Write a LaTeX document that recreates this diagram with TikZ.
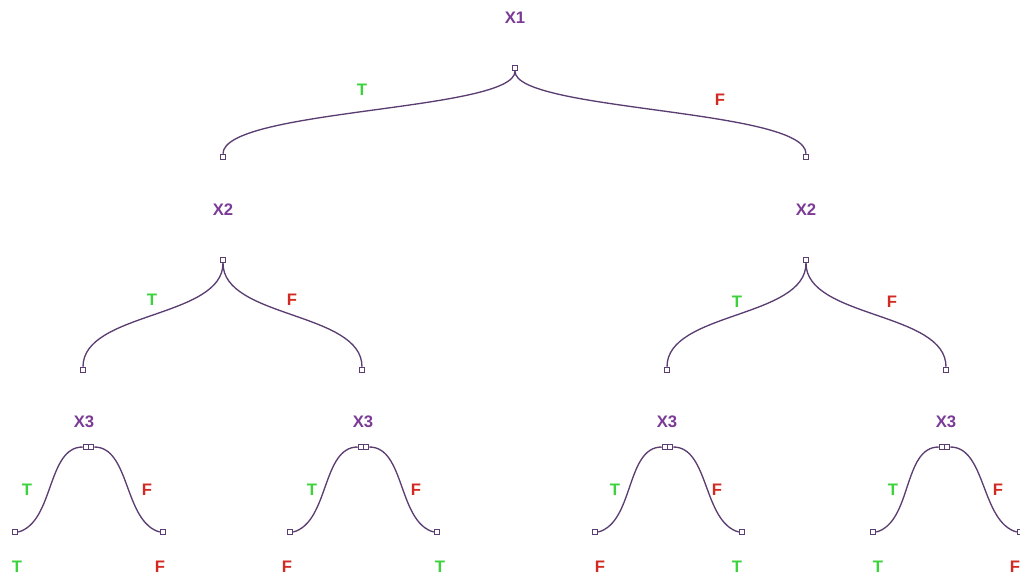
\documentclass[tikz,border=0pt]{standalone}
\usepackage{fontspec}
\setsansfont{Liberation Sans}
\usetikzlibrary{positioning}
\definecolor{varcol}{HTML}{7B3A96}
\definecolor{linkcol}{HTML}{5A3E72}
\definecolor{tcol}{HTML}{3CD23C}
\definecolor{fcol}{HTML}{D02A22}

\begin{document}
\begin{tikzpicture}[x=0.75pt,y=-0.75pt]
\tikzset{
  var/.style={text=varcol,font=\sffamily\bfseries\fontsize{12.5}{14}\selectfont,inner sep=0pt},
  tl/.style={text=tcol,font=\sffamily\bfseries\fontsize{12.5}{14}\selectfont,inner sep=0pt},
  fl/.style={text=fcol,font=\sffamily\bfseries\fontsize{12.5}{14}\selectfont,inner sep=0pt},
  mk/.style={draw=linkcol,fill=white,line width=0.7pt,minimum size=4.2pt,inner sep=0pt},
  link/.style={draw=linkcol,line width=1pt}
}
\useasboundingbox (0,0) rectangle (1020,577);

% root
\node[var] (x1) at (515,18) {X1};
\node[mk] (r) at (515,68) {};
\node[mk] (a) at (223,157) {};
\node[mk] (b) at (806,157) {};
\draw[link] (r.south) .. controls +(0,40) and +(0,-45) .. (a.north);
\draw[link] (r.south) .. controls +(0,40) and +(0,-45) .. (b.north);
\node[tl] (ta) at (362,90) {T};
\node[fl] (fb) at (720,100) {F};

% second level
\node[var] (x2a) at (223,210) {X2};
\node[var] (x2b) at (806,210) {X2};
\node[mk] (ra) at (223,260) {};
\node[mk] (rb) at (806,260) {};
\node[mk] (aa) at (83,370) {};
\node[mk] (ab) at (362,370) {};
\node[mk] (ba) at (667,370) {};
\node[mk] (bb) at (946,370) {};
\draw[link] (ra.south) .. controls +(0,55) and +(0,-55) .. (aa.north);
\draw[link] (ra.south) .. controls +(0,55) and +(0,-55) .. (ab.north);
\draw[link] (rb.south) .. controls +(0,55) and +(0,-55) .. (ba.north);
\draw[link] (rb.south) .. controls +(0,55) and +(0,-55) .. (bb.north);
\node[tl] (taa) at (152,300) {T};
\node[fl] (fab) at (292,300) {F};
\node[tl] (tba) at (737,302) {T};
\node[fl] (fbb) at (892,302) {F};

% third level
\node[var] (x3a) at (84,422) {X3};
\node[var] (x3b) at (363,422) {X3};
\node[var] (x3c) at (667,422) {X3};
\node[var] (x3d) at (946,422) {X3};
\node[mk] (s1) at (86,447) {};  \node[mk] (e1) at (91,447) {};
\node[mk] (s2) at (361,447) {}; \node[mk] (e2) at (366,447) {};
\node[mk] (s3) at (665,447) {}; \node[mk] (e3) at (670,447) {};
\node[mk] (s4) at (942,447) {}; \node[mk] (e4) at (947,447) {};
\node[mk] (l1) at (15,532) {};  \node[mk] (m1) at (163,532) {};
\node[mk] (l2) at (290,532) {}; \node[mk] (m2) at (437,532) {};
\node[mk] (l3) at (595,532) {}; \node[mk] (m3) at (742,532) {};
\node[mk] (l4) at (873,532) {}; \node[mk] (m4) at (1020,532) {};
\draw[link] (s1.west) .. controls +(-36,0) and +(36,-10) .. (l1.east);
\draw[link] (e1.east) .. controls +(36,0) and +(-36,-10) .. (m1.west);
\draw[link] (s2.west) .. controls +(-36,0) and +(36,-10) .. (l2.east);
\draw[link] (e2.east) .. controls +(36,0) and +(-36,-10) .. (m2.west);
\draw[link] (s3.west) .. controls +(-36,0) and +(36,-10) .. (l3.east);
\draw[link] (e3.east) .. controls +(36,0) and +(-36,-10) .. (m3.west);
\draw[link] (s4.west) .. controls +(-36,0) and +(36,-10) .. (l4.east);
\draw[link] (e4.east) .. controls +(36,0) and +(-36,-10) .. (m4.west);
\node[tl] (t1) at (27,490) {T};  \node[fl] (f1) at (147,490) {F};
\node[tl] (t2) at (312,490) {T}; \node[fl] (f2) at (416,490) {F};
\node[tl] (t3) at (615,490) {T}; \node[fl] (f3) at (717,490) {F};
\node[tl] (t4) at (893,490) {T}; \node[fl] (f4) at (998,490) {F};

% leaves
\node[tl] (v1) at (17,567) {T};   \node[fl] (w1) at (160,567) {F};
\node[fl] (v2) at (287,567) {F};  \node[tl] (w2) at (440,567) {T};
\node[fl] (v3) at (600,567) {F};  \node[tl] (w3) at (737,567) {T};
\node[tl] (v4) at (878,567) {T};  \node[fl] (w4) at (1015,567) {F};
\end{tikzpicture}
\end{document}
